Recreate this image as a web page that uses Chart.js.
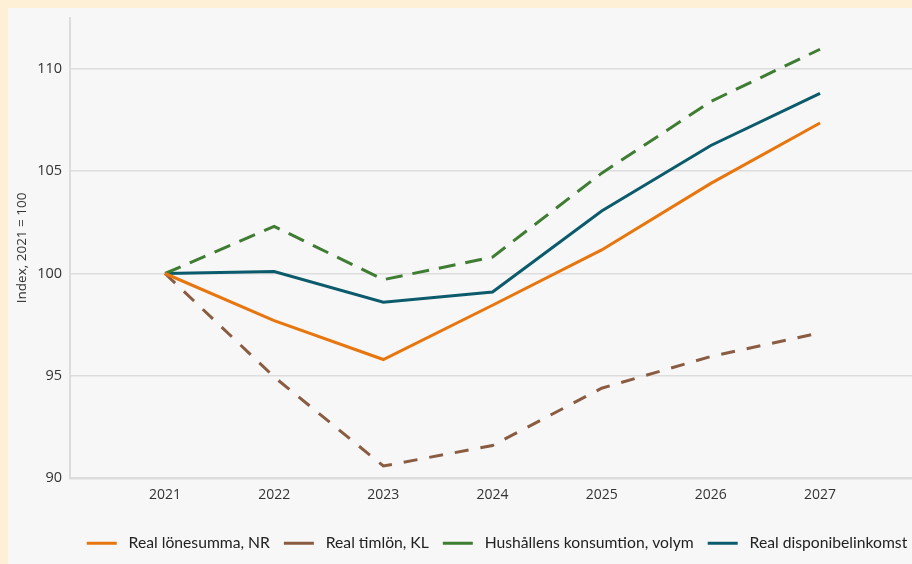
<!DOCTYPE html>
<html>
<head>
<meta charset="utf-8">
<script src="https://cdn.jsdelivr.net/npm/chart.js@4"></script>
<style>
  html, body { margin: 0; padding: 0; width: 912px; height: 564px; overflow: hidden; background: #fdf0d7; }
  #card { position: absolute; left: 8px; top: 8px; width: 988px; height: 556px; background: #f7f7f7; }
</style>
</head>
<body>
<div id="card"><canvas id="myChart" width="988" height="556"></canvas></div>
<script>
// years on the x axis
const years = [2021, 2022, 2023, 2024, 2025, 2026, 2027];

// series, index 2021 = 100
const realLonesumma = [100, 97.7, 95.8, 98.45, 101.15, 104.4, 107.35];
const realTimlon = [100, 94.95, 90.6, 91.6, 94.4, 95.95, 97.1];
const hushallensKonsumtion = [100, 102.3, 99.7, 100.8, 104.9, 108.4, 110.95];
const realDisponibel = [100, 100.1, 98.6, 99.1, 103.05, 106.25, 108.8];

const yTicks = [90, 95, 100, 105, 110];

function toXY(values) {
    return values.map(function(v, i) { return {x: years[i], y: v}; });
}

const pxPerYear = 109.17;
const xMin = 2021 - 95 / pxPerYear;
const xMax = xMin + (988 - 62 - 10) / pxPerYear;

const datasets = [
    { label: 'Real lönesumma, NR', data: toXY(realLonesumma), borderColor: '#e8760f', borderDash: [] },
    { label: 'Real timlön, KL', data: toXY(realTimlon), borderColor: '#8a5c42', borderDash: [14, 12] },
    { label: 'Hushållens konsumtion, volym', data: toXY(hushallensKonsumtion), borderColor: '#3f7d33', borderDash: [17, 10] },
    { label: 'Real disponibelinkomst', data: toXY(realDisponibel), borderColor: '#0c5b6c', borderDash: [] }
];
datasets.forEach(function(d) {
    d.borderWidth = 3;
    d.pointRadius = 0;
    d.tension = 0;
    d.fill = false;
    d.backgroundColor = d.borderColor;
});

const config = {
    type: 'line',
    data: { datasets: datasets },
    options: {
        responsive: false,
        animation: false,
        layout: { padding: { top: 9.5, right: 10, bottom: 3, left: 0 } },
        plugins: {
            tooltip: { enabled: false },
            legend: {
                position: 'bottom',
                labels: {
                    usePointStyle: true,
                    pointStyle: 'line',
                    pointStyleWidth: 30,
                    boxHeight: 3,
                    padding: 14,
                    color: '#222',
                    font: { family: 'Lato', size: 15.7 },
                    generateLabels: function(chart) {
                        // a small gap between the line sample and the text
                        const items = Chart.defaults.plugins.legend.labels.generateLabels(chart);
                        items.forEach(function(it) { it.text = ' ' + it.text; });
                        return items;
                    }
                }
            }
        },
        scales: {
            x: {
                type: 'linear',
                min: xMin,
                max: xMax,
                afterFit: function(scale) {
                    scale.height = 43;
                    scale.paddingLeft = 0;
                    scale.paddingRight = 0;
                },
                grid: { display: false },
                border: { color: '#dcdcdc', width: 2 },
                ticks: {
                    stepSize: 1,
                    includeBounds: false,
                    autoSkip: false,
                    maxRotation: 0,
                    padding: 0,
                    color: '#333',
                    font: { family: 'Open Sans', size: 14 },
                    callback: function(v) {
                        return years.indexOf(v) >= 0 ? String(v) : '';
                    }
                }
            },
            y: {
                min: 90,
                max: 112.5,
                afterFit: function(scale) {
                    scale.width = 62;
                    scale.paddingTop = 0;
                    scale.paddingBottom = 0;
                },
                afterBuildTicks: function(scale) {
                    scale.ticks = yTicks.map(function(v) { return {value: v}; });
                },
                grid: { color: '#dddddd', lineWidth: 1.5, drawTicks: false },
                border: { color: '#dcdcdc', width: 2 },
                title: {
                    display: true,
                    text: 'Index, 2021 = 100',
                    color: '#333',
                    padding: 6,
                    font: { family: 'Open Sans', size: 13.5 }
                },
                ticks: {
                    padding: 8,
                    color: '#333',
                    font: { family: 'Open Sans', size: 14.5 }
                }
            }
        }
    }
};

const myChart = new Chart(document.getElementById('myChart'), config);
</script>
</body>
</html>
